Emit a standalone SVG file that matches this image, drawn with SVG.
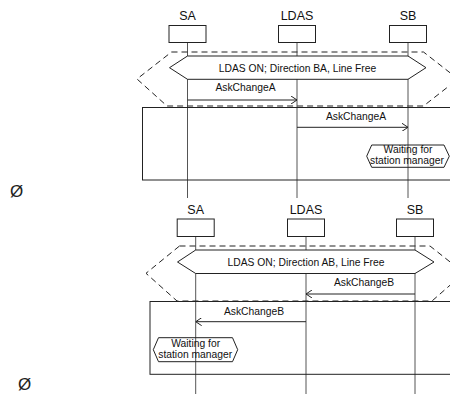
<svg xmlns="http://www.w3.org/2000/svg" width="450" height="394" viewBox="0 0 450 394">
<style>
text{font-family:"Liberation Sans",Arial,sans-serif;fill:#111}
.lbl{font-size:12.5px;text-anchor:middle}
.msg{font-size:10.3px;text-anchor:middle}
.box{fill:#fff;stroke:#222;stroke-width:1}
.life{stroke:#555;stroke-width:1;fill:none}
.dash{fill:none;stroke:#222;stroke-width:1;stroke-dasharray:6 4}
.hex{fill:#fff;stroke:#222;stroke-width:1}
.whex{fill:none;stroke:#222;stroke-width:1}
.frame{fill:none;stroke:#222;stroke-width:1}
.arr{stroke:#222;stroke-width:1;fill:none;marker-end:url(#oa)}
.sym{font-size:17px;fill:#222}
</style>
<defs>
<marker id="oa" viewBox="0 0 6 8" refX="6" refY="4" markerWidth="6" markerHeight="8" markerUnits="userSpaceOnUse" orient="auto">
<path d="M0,0 L6,4 L0,8" fill="none" stroke="#222" stroke-width="1"/>
</marker>
</defs>

<!-- Diagram 1 -->
<g id="d1-lifelines">
<line class="life" x1="187.5" y1="42.5" x2="187.5" y2="198"/>
<line class="life" x1="297" y1="42.5" x2="297" y2="198"/>
<line class="life" x1="408" y1="42.5" x2="408" y2="198"/>
</g>
<g id="d1-SA"><text class="lbl" x="187.5" y="19.5">SA</text><rect class="box" x="169" y="25.5" width="37" height="17"/></g>
<g id="d1-LDAS"><text class="lbl" x="297" y="19.5">LDAS</text><rect class="box" x="278.5" y="25.5" width="37" height="17"/></g>
<g id="d1-SB"><text class="lbl" x="408" y="19.5">SB</text><rect class="box" x="389.5" y="25.5" width="37" height="17"/></g>
<g id="d1-fragment"><rect class="frame" x="142.5" y="107.5" width="330" height="72.5"/></g>
<g id="d1-alt"><polygon class="dash" points="171.5,52 423.5,52 458,79 423.5,106 167,106 137,79"/></g>
<g id="d1-state">
<polygon class="hex" points="169.5,67.7 187.5,56 408,56 426,67.7 408,79.3 187.5,79.3"/>
<text class="msg" x="297.5" y="71.5">LDAS ON; Direction BA, Line Free</text>
</g>
<g id="d1-waiting">
<polygon class="whex" points="366.7,156.2 371.7,145 444,145 449.3,156.2 444,167.3 371.7,167.3"/>
<text class="msg" x="408" y="153.3">Waiting for</text>
<text class="msg" x="407" y="163.8">station manager</text>
</g>
<g id="d1-end"><text class="sym" x="10" y="197">Ø</text></g>
<g id="d1-connectors">
<line class="arr" x1="187.5" y1="100" x2="297" y2="100"/>
<text class="msg" x="245.5" y="90.7">AskChangeA</text>
<line class="arr" x1="297" y1="127.3" x2="408" y2="127.3"/>
<text class="msg" x="356" y="119.7">AskChangeA</text>
</g>

<!-- Diagram 2 -->
<g id="d2-lifelines">
<line class="life" x1="195.7" y1="236.5" x2="195.7" y2="394"/>
<line class="life" x1="306" y1="236.5" x2="306" y2="394"/>
<line class="life" x1="415" y1="236.5" x2="415" y2="394"/>
</g>
<g id="d2-SA"><text class="lbl" x="195.7" y="213.5">SA</text><rect class="box" x="177.2" y="219" width="37" height="17.5"/></g>
<g id="d2-LDAS"><text class="lbl" x="306" y="213.5">LDAS</text><rect class="box" x="287.5" y="219" width="37" height="17.5"/></g>
<g id="d2-SB"><text class="lbl" x="415" y="213.5">SB</text><rect class="box" x="396.5" y="219" width="37" height="17.5"/></g>
<g id="d2-fragment"><rect class="frame" x="150" y="301.5" width="330" height="72.8"/></g>
<g id="d2-alt"><polygon class="dash" points="179.5,246 430,246 464,273 432,301 177,301 146,273.3"/></g>
<g id="d2-state">
<polygon class="hex" points="177.5,262 195.7,250 415,250 434,262 415,273.5 195.7,273.5"/>
<text class="msg" x="306" y="265.7">LDAS ON; Direction AB, Line Free</text>
</g>
<g id="d2-waiting">
<polygon class="whex" points="153.3,349.7 158.5,337.7 232.5,337.7 237.7,349.7 232.5,361.7 158.5,361.7"/>
<text class="msg" x="195.7" y="346.5">Waiting for</text>
<text class="msg" x="195.2" y="358">station manager</text>
</g>
<g id="d2-end"><text class="sym" x="18" y="389.5">Ø</text></g>
<g id="d2-connectors">
<line class="arr" x1="415" y1="294" x2="306" y2="294"/>
<text class="msg" x="364" y="285.7">AskChangeB</text>
<line class="arr" x1="306" y1="321.7" x2="195.7" y2="321.7"/>
<text class="msg" x="254" y="314.7">AskChangeB</text>
</g>
</svg>
